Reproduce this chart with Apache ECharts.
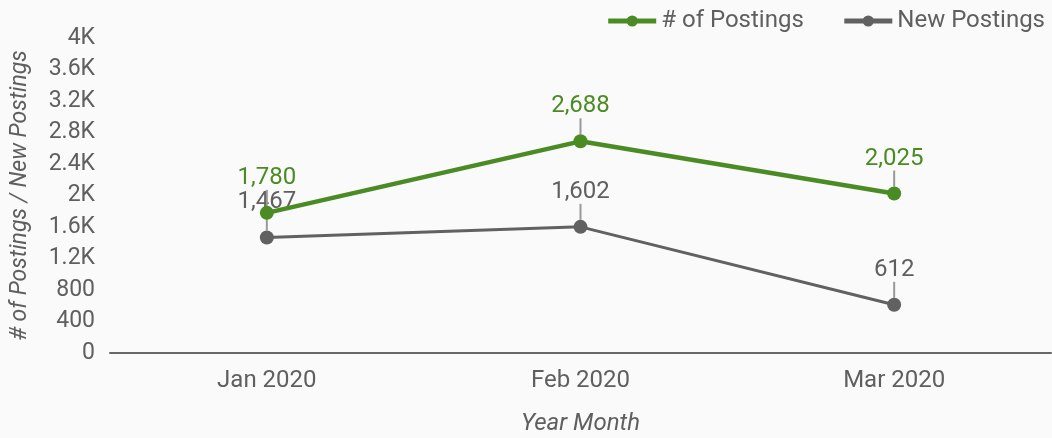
<!DOCTYPE html>
<html lang="en">
  <head>
    <meta charset="UTF-8" />
    <title>postings</title>
    <script src="https://cdn.jsdelivr.net/npm/echarts@6/dist/echarts.min.js"></script>
    <style>
      html, body { margin: 0; padding: 0; background: #fafafa; }
    </style>
  </head>
  <body>
    <div id="main" style="width: 1052px; height: 438px;"></div>
    <script type="text/javascript">
      // data
      var months = ["Jan 2020", "Feb 2020", "Mar 2020"];
      var postings = [1780, 2688, 2025];
      var newPostings = [1467, 1602, 612];
      var yTicks = { min: 0, max: 4000, interval: 400 };

      var green = "#4b8b23";
      var gray = "#616161";
      var textColor = "#5f5f5f";

      function fmtK(v) {
        if (v >= 1000) return (v / 1000) + "K";
        return v + "";
      }
      function fmtComma(p) {
        return p.value.toLocaleString("en-US");
      }

      var myChart = echarts.init(document.getElementById("main"));

      var option = {
        backgroundColor: "#fafafa",
        textStyle: { fontFamily: "Roboto" },
        legend: {
          right: 2,
          top: 4,
          itemWidth: 48,
          itemHeight: 14,
          itemGap: 38,
          lineStyle: { width: 5 },
          textStyle: { color: textColor, fontSize: 24, fontFamily: "Roboto" },
          data: ["# of Postings", "New Postings"]
        },
        grid: { left: 110, right: 1, top: 38, bottom: 85, outerBoundsMode: "none" },
        xAxis: {
          type: "category",
          data: months,
          boundaryGap: true,
          name: "Year Month",
          nameLocation: "middle",
          nameGap: 59,
          nameTextStyle: { color: textColor, fontSize: 24, fontStyle: "italic" },
          axisLine: { lineStyle: { color: "#666", width: 2 } },
          axisTick: { show: false },
          axisLabel: { color: textColor, fontSize: 24, margin: 16 }
        },
        yAxis: {
          type: "value",
          min: yTicks.min,
          max: yTicks.max,
          interval: yTicks.interval,
          name: "# of Postings / New Postings",
          nameLocation: "middle",
          nameGap: 78,
          nameTextStyle: { color: textColor, fontSize: 23, fontStyle: "italic" },
          axisLine: { show: false },
          axisTick: { show: false },
          splitLine: { show: false },
          axisLabel: { color: textColor, fontSize: 23, margin: 15, formatter: fmtK }
        },
        series: [
          {
            name: "# of Postings",
            type: "line",
            data: postings,
            symbol: "circle",
            symbolSize: 14,
            z: 3,
            itemStyle: { color: green },
            lineStyle: { color: green, width: 4.5 },
            label: {
              show: true,
              position: "top",
              distance: 4,
              color: green,
              fontSize: 24,
              formatter: fmtComma
            },
            labelLayout: { dy: -12 },
            labelLine: { show: true, lineStyle: { color: "#999", width: 2 } }
          },
          {
            name: "New Postings",
            type: "line",
            data: newPostings,
            symbol: "circle",
            symbolSize: 14,
            z: 2,
            itemStyle: { color: gray },
            lineStyle: { color: gray, width: 3 },
            label: {
              show: true,
              position: "top",
              distance: 4,
              color: textColor,
              fontSize: 24,
              formatter: fmtComma
            },
            labelLayout: { dy: -12 },
            labelLine: { show: true, lineStyle: { color: "#999", width: 2 } }
          }
        ]
      };

      myChart.setOption(option);
    </script>
  </body>
</html>
